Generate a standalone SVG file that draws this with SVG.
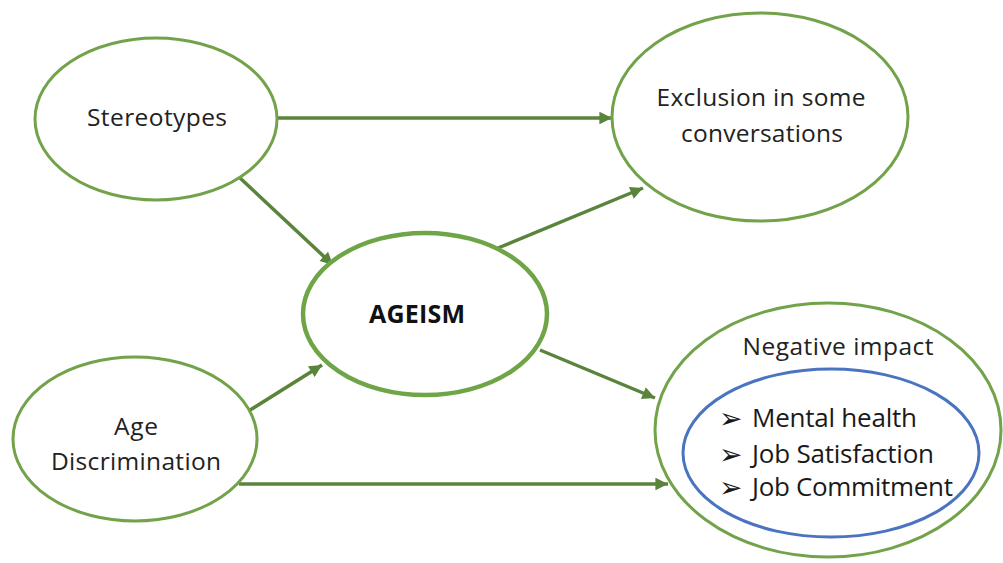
<svg xmlns="http://www.w3.org/2000/svg" width="1003" height="563" viewBox="0 0 1003 563">
  <defs>
    <marker id="arrow" viewBox="0 0 10 10" refX="10" refY="5" markerWidth="4.2" markerHeight="3.6" markerUnits="strokeWidth" orient="auto">
      <path d="M0,0 L10,5 L0,10 z" fill="#5a833b"/>
    </marker>
    <style>
      .node { fill: #ffffff; stroke: #72a34b; stroke-width: 3; }
      .core { fill: #ffffff; stroke: #6fa447; stroke-width: 4.5; }
      .inner { fill: none; stroke: #4a74c0; stroke-width: 3; }
      .label { font-family: "Open Sans", "Liberation Sans", sans-serif; font-size: 24.5px; fill: #222222; text-anchor: middle; }
      .bold { font-weight: bold; font-size: 25px; fill: #111111; }
      .item { font-family: "Open Sans", "Liberation Sans", sans-serif; font-size: 26px; fill: #1a1a1a; }
      .bullet { font-family: "DejaVu Sans", sans-serif; font-size: 28px; fill: #1a1a1a; }
      .link { fill: none; stroke: #5a833b; stroke-width: 3.5; marker-end: url(#arrow); }
    </style>
  </defs>
  <rect width="1003" height="563" fill="#ffffff"/>

  <g id="connectors">
    <line class="link" x1="277" y1="118" x2="612" y2="118"/>
    <line class="link" x1="240" y1="178" x2="333" y2="265"/>
    <line class="link" x1="247" y1="412" x2="322" y2="365"/>
    <line class="link" x1="239" y1="484" x2="668" y2="484"/>
    <line class="link" x1="498" y1="248" x2="643" y2="188"/>
    <line class="link" x1="540" y1="350" x2="655" y2="398"/>
  </g>

  <g id="stereotypes">
    <ellipse class="node" cx="156" cy="119" rx="121" ry="81"/>
    <text class="label" x="157" y="126" textLength="140">Stereotypes</text>
  </g>

  <g id="exclusion">
    <ellipse class="node" cx="760" cy="117" rx="148" ry="104"/>
    <text class="label" x="761" y="106" textLength="209">Exclusion in some</text>
    <text class="label" x="762" y="142" textLength="162">conversations</text>
  </g>

  <g id="ageism">
    <ellipse class="core" cx="425" cy="314" rx="122" ry="81"/>
    <text class="label bold" x="417" y="323" textLength="96">AGEISM</text>
  </g>

  <g id="age-discrimination">
    <ellipse class="node" cx="135" cy="439" rx="122" ry="82"/>
    <text class="label" x="136" y="435" textLength="44">Age</text>
    <text class="label" x="136" y="470" textLength="170">Discrimination</text>
  </g>

  <g id="negative-impact">
    <ellipse class="node" cx="828" cy="430" rx="173" ry="127"/>
    <text class="label" x="838" y="355" textLength="191">Negative impact</text>
    <ellipse class="inner" cx="831" cy="453" rx="148" ry="84"/>
    <text class="bullet" x="719" y="428">➢</text>
    <text class="item" x="752" y="427" textLength="165">Mental health</text>
    <text class="bullet" x="719" y="464">➢</text>
    <text class="item" x="752" y="463" textLength="182">Job Satisfaction</text>
    <text class="bullet" x="719" y="497">➢</text>
    <text class="item" x="752" y="496" textLength="201">Job Commitment</text>
  </g>
</svg>
